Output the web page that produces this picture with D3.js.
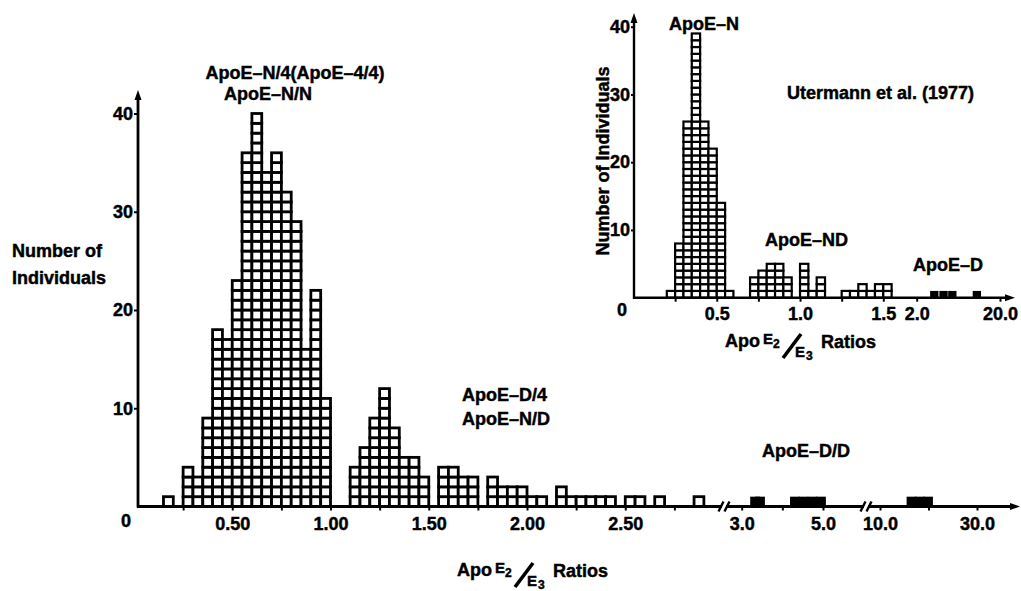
<!DOCTYPE html>
<html>
<head>
<meta charset="utf-8">
<script src="https://cdn.jsdelivr.net/npm/d3@7"></script>
<style>
  html, body { margin: 0; padding: 0; background: #fff; }
  svg { display: block; }
  text { font-family: "Liberation Sans", Arial, sans-serif; font-weight: bold; fill: #000; stroke: #000; stroke-width: 0.45px; }
</style>
</head>
<body>
<svg width="1021" height="591"></svg>
<script>
(function(d3) {
    "use strict";

// main histogram: lower edge of each 0.05 bin and number of individuals
var mainRatios = [0.15, 0.25, 0.30, 0.35, 0.40, 0.45, 0.50, 0.55, 0.60, 0.65,
                  0.70, 0.75, 0.80, 0.85, 0.90, 0.95, 1.10, 1.15, 1.20, 1.25,
                  1.30, 1.35, 1.40, 1.45, 1.55, 1.60, 1.65, 1.70, 1.80, 1.85,
                  1.90, 1.95, 2.00, 2.05, 2.15, 2.20, 2.25, 2.30, 2.35, 2.40,
                  2.50, 2.55, 2.65, 2.85];
var mainCounts = [1, 4, 3, 9, 18, 17, 23, 36, 40, 34,
                  36, 32, 29, 16, 22, 11, 4, 6, 9, 12,
                  8, 5, 5, 3, 4, 4, 3, 3, 3, 2,
                  2, 2, 1, 1, 2, 1, 1, 1, 1, 1,
                  1, 1, 1, 1];
// ApoE-D/D individuals (filled squares)
var mainFilled = [3.33, 3.45, 4.31, 4.52, 4.74, 4.95, 16.5, 18.2, 19.9];

// inset (Utermann et al. 1977)
var insetRatios = [0.20, 0.25, 0.30, 0.35, 0.40, 0.45, 0.50, 0.55, 0.70, 0.75,
                   0.80, 0.85, 0.90, 1.00, 1.05, 1.10, 1.25, 1.30, 1.35, 1.40,
                   1.45, 1.50];
var insetCounts = [1, 8, 26, 39, 26, 22, 14, 1, 3, 4,
                   5, 5, 3, 5, 1, 3, 1, 1, 2, 1,
                   2, 2];
var insetFilled = [5.8, 7.8, 9.7, 15.0];

// ticks and labels
var yTicks = [10, 20, 30, 40];
var mainTicksLow = [0.25, 0.50, 0.75, 1.00, 1.25, 1.50, 1.75, 2.00, 2.25, 2.50, 2.75];
var mainLabelsLow = [0.50, 1.00, 1.50, 2.00, 2.50];
var mainTicksMid = [3, 4, 5];
var mainLabelsMid = [3, 5];
var mainTicksHigh = [10, 20, 30];
var mainLabelsHigh = [10, 30];
var insetTicksLow = [0.25, 0.50, 0.75, 1.00, 1.25, 1.50];
var insetLabelsLow = [0.5, 1.0, 1.5];
var insetTicksHigh = [2, 20];
var insetLabelsHigh = [2, 20];

var binWidth = 0.05;

var svg = d3.select("svg"),

    xMainLow = d3.scaleLinear().domain([0, 2.95]).range([134, 713.7]),
    xMainMid = d3.scaleLinear().domain([3, 5]).range([741.7, 823]),
    xMainHigh = d3.scaleLinear().domain([10, 30]).range([880, 977]),
    yMain = d3.scaleLinear().domain([0, 40]).range([506.5, 113.5]),

    xInsetLow = d3.scaleLinear().domain([0, 1.5]).range([633.5, 883.3]),
    xInsetHigh = d3.scaleLinear().domain([2, 20]).range([916.7, 1000]),
    yInset = d3.scaleLinear().domain([0, 40]).range([297.7, 26.7]),

    gMain = svg.append("g"),
    gInset = svg.append("g");

function xMain(v) {
    if (v < 2.97) { return xMainLow(v); }
    if (v < 6) { return xMainMid(v); }
    return xMainHigh(v);
}

function xInset(v) {
    return v < 1.8 ? xInsetLow(v) : xInsetHigh(v);
}

function cells(ratios, counts) {
    var out = [];
    ratios.forEach(function(r, i) {
        d3.range(counts[i]).forEach(function(k) { out.push({r: r, k: k}); });
    });
    return out;
}

function drawCells(g, data, x, y, sw) {
    g.selectAll("rect.cell")
        .data(data)
        .join("rect")
        .attr("class", "cell")
        .attr("x", function(d) { return x(d.r); })
        .attr("width", function(d) { return x(d.r + binWidth) - x(d.r); })
        .attr("y", function(d) { return y(d.k + 1); })
        .attr("height", function(d) { return y(d.k) - y(d.k + 1); })
        .attr("fill", "#fff")
        .attr("stroke", "#000")
        .attr("stroke-width", sw);
}

function drawFilled(g, data, x, y, w) {
    g.selectAll("rect.filled")
        .data(data)
        .join("rect")
        .attr("class", "filled")
        .attr("x", function(d) { return x(d) - w / 2; })
        .attr("width", w)
        .attr("y", y(1))
        .attr("height", y(0) - y(1))
        .attr("fill", "#000");
}

function xAxis(g, scale, ticks, labels, fmt, y0, size, pad) {
    g.append("g")
        .attr("transform", "translate(0," + y0 + ")")
        .call(d3.axisBottom(scale)
            .tickValues(ticks)
            .tickSize(size)
            .tickPadding(pad)
            .tickFormat(function(d) { return labels.indexOf(d) >= 0 ? fmt(d) : ""; }))
        .call(function(a) { a.select(".domain").remove(); })
        .call(function(a) {
            a.selectAll("line").attr("stroke-width", 2);
            a.selectAll("text").style("font-size", "18px")
                .style("font-family", "'Liberation Sans', Arial, sans-serif");
        });
}

function yAxis(g, scale, x0, size) {
    g.append("g")
        .attr("transform", "translate(" + x0 + ",0)")
        .call(d3.axisLeft(scale).tickValues(yTicks).tickSize(size).tickPadding(1))
        .call(function(a) { a.select(".domain").remove(); })
        .call(function(a) {
            a.selectAll("line").attr("stroke-width", 2);
            a.selectAll("text").style("font-size", "18px")
                .style("font-family", "'Liberation Sans', Arial, sans-serif");
        });
}

function arrowLine(g, x1, y1, x2, y2, sw) {
    var ang = Math.atan2(y2 - y1, x2 - x1),
        len = 10, half = 3.5,
        bx = x2 - len * Math.cos(ang), by = y2 - len * Math.sin(ang);
    g.append("line")
        .attr("x1", x1).attr("y1", y1).attr("x2", bx).attr("y2", by)
        .attr("stroke", "#000").attr("stroke-width", sw);
    g.append("path")
        .attr("d", d3.line()([
            [x2, y2],
            [bx + half * Math.sin(ang), by - half * Math.cos(ang)],
            [bx - half * Math.sin(ang), by + half * Math.cos(ang)]
        ]) + "Z")
        .attr("fill", "#000");
}

function axisBreak(g, cx, y0) {
    g.append("rect")
        .attr("x", cx - 2).attr("y", y0 - 3).attr("width", 4).attr("height", 6)
        .attr("fill", "#fff");
    [-3, 3].forEach(function(o) {
        g.append("line")
            .attr("x1", cx + o - 2.5).attr("y1", y0 + 5)
            .attr("x2", cx + o + 2.5).attr("y2", y0 - 5)
            .attr("stroke", "#000").attr("stroke-width", 2.4);
    });
}

function ratioTitle(g, x0, y0) {
    var parts = [
        {t: "Apo", dx: 0, dy: 0, s: 18},
        {t: "E", dx: 38, dy: -3, s: 15},
        {t: "2", dx: 48, dy: 1, s: 12},
        {t: "E", dx: 70, dy: 10, s: 15},
        {t: "3", dx: 81, dy: 13, s: 12},
        {t: "Ratios", dx: 96, dy: 1, s: 18}
    ];
    g.selectAll(null)
        .data(parts)
        .join("text")
        .attr("x", function(d) { return x0 + d.dx; })
        .attr("y", function(d) { return y0 + d.dy; })
        .style("font-size", function(d) { return d.s + "px"; })
        .text(function(d) { return d.t; });
    g.append("line")
        .attr("x1", x0 + 58).attr("y1", y0 + 11)
        .attr("x2", x0 + 76).attr("y2", y0 - 13)
        .attr("stroke", "#000").attr("stroke-width", 3.6);
}

function label(g, x, y, txt, anchor) {
    g.append("text")
        .attr("x", x).attr("y", y)
        .attr("text-anchor", anchor || "start")
        .style("font-size", "18px")
        .text(txt);
}

// ---- main chart ----
drawCells(gMain, cells(mainRatios, mainCounts), xMainLow, yMain, 2.8);
drawFilled(gMain, mainFilled, xMain, yMain, xMainLow(binWidth) - xMainLow(0));

arrowLine(gMain, 138, yMain(0) + 1, 138, 90, 2.8);
arrowLine(gMain, 137, yMain(0), 1020, yMain(0), 2.8);
axisBreak(gMain, 724, yMain(0));
axisBreak(gMain, 866, yMain(0));

xAxis(gMain, xMainLow, mainTicksLow, mainLabelsLow, d3.format(".2f"), yMain(0), 4, 7);
xAxis(gMain, xMainMid, mainTicksMid, mainLabelsMid, d3.format(".1f"), yMain(0), 4, 7);
xAxis(gMain, xMainHigh, mainTicksHigh, mainLabelsHigh, d3.format(".1f"), yMain(0), 4, 7);
yAxis(gMain, yMain, 138, 4);
label(gMain, 131, 527, "0", "end");

label(gMain, 12, 257, "Number of");
label(gMain, 12, 284, "Individuals");
label(gMain, 295, 79, "ApoE\u2013N/4(ApoE\u20134/4)", "middle");
label(gMain, 268, 100, "ApoE\u2013N/N", "middle");
label(gMain, 462, 401, "ApoE\u2013D/4");
label(gMain, 462, 425, "ApoE\u2013N/D");
label(gMain, 762, 457, "ApoE\u2013D/D");
ratioTitle(gMain, 457, 576);

// ---- inset ----
drawCells(gInset, cells(insetRatios, insetCounts), xInsetLow, yInset, 2.2);
drawFilled(gInset, insetFilled, xInset, yInset, xInsetLow(binWidth) - xInsetLow(0));

arrowLine(gInset, 634, yInset(0) + 1, 634, 13, 2.4);
arrowLine(gInset, 633, yInset(0), 1015, yInset(0), 2.4);

xAxis(gInset, xInsetLow, insetTicksLow, insetLabelsLow, d3.format(".1f"), yInset(0), 4, 6);
xAxis(gInset, xInsetHigh, insetTicksHigh, insetLabelsHigh, d3.format(".1f"), yInset(0), 4, 6);
yAxis(gInset, yInset, 634, 3);
label(gInset, 627, 316, "0", "end");

gInset.append("text")
    .attr("transform", "translate(609,161) rotate(-90)")
    .attr("text-anchor", "middle")
    .style("font-size", "18px")
    .text("Number of Individuals");
label(gInset, 704, 30, "ApoE\u2013N", "middle");
label(gInset, 765, 246, "ApoE\u2013ND");
label(gInset, 913, 271, "ApoE\u2013D");
label(gInset, 787, 99, "Utermann et al. (1977)");
ratioTitle(gInset, 725, 347);

}(d3));
</script>
</body>
</html>
